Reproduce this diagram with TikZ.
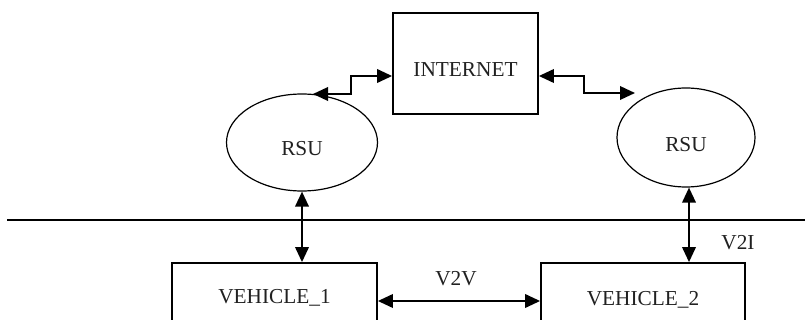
\documentclass[tikz,border=0pt]{standalone}
\usepackage{fontspec}
\setmainfont{Liberation Serif}
\usetikzlibrary{arrows.meta,shapes.geometric}
\begin{document}
\begin{tikzpicture}[x=1pt,y=1pt,
  lbl/.style={font=\fontsize{21.3}{25}\selectfont, text=black!87},
  boxnode/.style={draw, line width=1.8pt, inner sep=0pt},
  rsunode/.style={draw, ellipse, line width=1.2pt, inner sep=0pt},
  conn/.style={line width=2pt, {Triangle[length=15pt,width=13.5pt]}-{Triangle[length=15pt,width=13.5pt]}},
  sep/.style={line width=1.2pt}]
\useasboundingbox (0,0) rectangle (805,-320);
\clip (0,0) rectangle (805,-320);
% nodes
\node[boxnode, minimum width=145pt, minimum height=101pt,
      label={[lbl, yshift=-6.5pt]center:INTERNET}] (inet) at (465.5,-63.5) {};
\node[rsunode, minimum width=151pt, minimum height=97pt,
      label={[lbl, yshift=-6pt]center:RSU}] (rsu1) at (302,-142.5) {};
\node[rsunode, minimum width=138pt, minimum height=99pt,
      label={[lbl, yshift=-7pt]center:RSU}] (rsu2) at (686,-137.5) {};
\node[boxnode, minimum width=205pt, minimum height=70pt,
      label={[lbl]center:VEHICLE\_1}] (v1) at (274.5,-298) {};
\node[boxnode, minimum width=204pt, minimum height=74pt,
      label={[lbl]center:VEHICLE\_2}] (v2) at (643,-300) {};
\node[lbl] (v2v) at (456,-279) {V2V};
\node[lbl] (v2i) at (738,-243) {V2I};
% separator line
\coordinate (sepL) at (7,-220);
\coordinate (sepR) at (805,-220);
\draw[sep] (sepL) -- (sepR);
% connectors
\coordinate (tipL) at (313,-94);
\coordinate (tipR) at (635,-93);
\draw[conn] ([yshift=-12.5pt]inet.west) -| (351,-85) |- (tipL);
\draw[conn] ([yshift=-12.5pt]inet.east) -| (584,-85) |- (tipR);
\draw[conn] (rsu1.south) -- (rsu1.south |- v1.north);
\draw[conn] ([xshift=3pt]rsu2.south) -- ([xshift=3pt]rsu2.south |- v2.north);
\draw[conn] ([yshift=-3pt]v1.east) -- ([yshift=-3pt]v1.east -| v2.west);
\end{tikzpicture}
\end{document}
